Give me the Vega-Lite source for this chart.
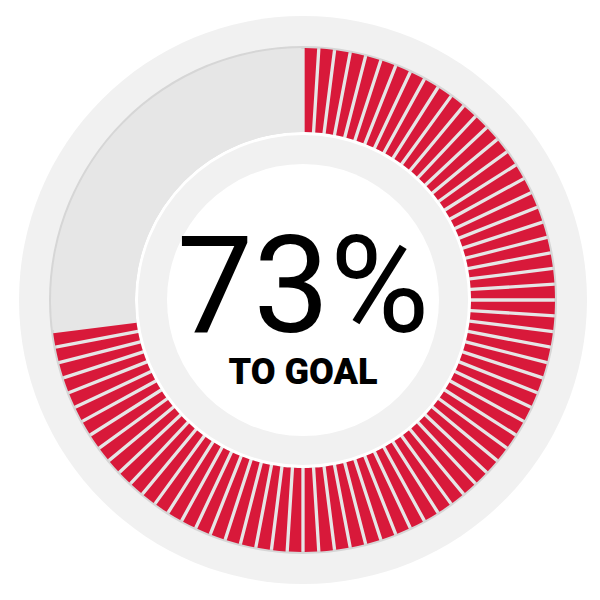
{
  "$schema": "https://vega.github.io/schema/vega-lite/v6.json",
  "width": 600,
  "height": 600,
  "autosize": {"type": "fit", "contains": "padding"},
  "padding": {"left": 6, "top": 0, "right": 0, "bottom": 0},
  "background": "white",
  "view": {"stroke": null},
  "datasets": {
    "rings": [{"ring": "outer"}],
    "segments": [
      {"i":1,"state":"done","v":1},{"i":2,"state":"done","v":1},{"i":3,"state":"done","v":1},{"i":4,"state":"done","v":1},{"i":5,"state":"done","v":1},
      {"i":6,"state":"done","v":1},{"i":7,"state":"done","v":1},{"i":8,"state":"done","v":1},{"i":9,"state":"done","v":1},{"i":10,"state":"done","v":1},
      {"i":11,"state":"done","v":1},{"i":12,"state":"done","v":1},{"i":13,"state":"done","v":1},{"i":14,"state":"done","v":1},{"i":15,"state":"done","v":1},
      {"i":16,"state":"done","v":1},{"i":17,"state":"done","v":1},{"i":18,"state":"done","v":1},{"i":19,"state":"done","v":1},{"i":20,"state":"done","v":1},
      {"i":21,"state":"done","v":1},{"i":22,"state":"done","v":1},{"i":23,"state":"done","v":1},{"i":24,"state":"done","v":1},{"i":25,"state":"done","v":1},
      {"i":26,"state":"done","v":1},{"i":27,"state":"done","v":1},{"i":28,"state":"done","v":1},{"i":29,"state":"done","v":1},{"i":30,"state":"done","v":1},
      {"i":31,"state":"done","v":1},{"i":32,"state":"done","v":1},{"i":33,"state":"done","v":1},{"i":34,"state":"done","v":1},{"i":35,"state":"done","v":1},
      {"i":36,"state":"done","v":1},{"i":37,"state":"done","v":1},{"i":38,"state":"done","v":1},{"i":39,"state":"done","v":1},{"i":40,"state":"done","v":1},
      {"i":41,"state":"done","v":1},{"i":42,"state":"done","v":1},{"i":43,"state":"done","v":1},{"i":44,"state":"done","v":1},{"i":45,"state":"done","v":1},
      {"i":46,"state":"done","v":1},{"i":47,"state":"done","v":1},{"i":48,"state":"done","v":1},{"i":49,"state":"done","v":1},{"i":50,"state":"done","v":1},
      {"i":51,"state":"done","v":1},{"i":52,"state":"done","v":1},{"i":53,"state":"done","v":1},{"i":54,"state":"done","v":1},{"i":55,"state":"done","v":1},
      {"i":56,"state":"done","v":1},{"i":57,"state":"done","v":1},{"i":58,"state":"done","v":1},{"i":59,"state":"done","v":1},{"i":60,"state":"done","v":1},
      {"i":61,"state":"done","v":1},{"i":62,"state":"done","v":1},{"i":63,"state":"done","v":1},{"i":64,"state":"done","v":1},{"i":65,"state":"done","v":1},
      {"i":66,"state":"done","v":1},{"i":67,"state":"done","v":1},{"i":68,"state":"done","v":1},{"i":69,"state":"done","v":1},{"i":70,"state":"done","v":1},
      {"i":71,"state":"done","v":1},{"i":72,"state":"done","v":1},{"i":73,"state":"done","v":1},
      {"i":74,"state":"todo","v":27}
    ],
    "labels": [{"pct": "73%", "caption": "TO GOAL"}]
  },
  "layer": [
    {
      "data": {"name": "rings"},
      "mark": {"type": "arc", "theta": 0, "theta2": 6.2832, "radius": 284, "radius2": 0, "color": "#f1f1f1"},
      "encoding": {}
    },
    {
      "data": {"name": "rings"},
      "mark": {"type": "arc", "theta": 0, "theta2": 6.2832, "radius": 254, "radius2": 168, "color": "#d6d6d6"},
      "encoding": {}
    },
    {
      "data": {"name": "rings"},
      "mark": {"type": "arc", "theta": 0, "theta2": 6.2832, "radius": 251, "radius2": 168, "color": "#e6e6e6"},
      "encoding": {}
    },
    {
      "data": {"name": "rings"},
      "mark": {"type": "arc", "theta": 0, "theta2": 6.2832, "radius": 168, "radius2": 0, "color": "#ffffff"},
      "encoding": {}
    },
    {
      "data": {"name": "rings"},
      "mark": {"type": "arc", "theta": 0, "theta2": 6.2832, "radius": 165, "radius2": 0, "color": "#f1f1f1"},
      "encoding": {}
    },
    {
      "data": {"name": "rings"},
      "mark": {"type": "arc", "theta": 0, "theta2": 6.2832, "radius": 136, "radius2": 0, "color": "#ffffff"},
      "encoding": {}
    },
    {
      "data": {"name": "segments"},
      "mark": {"type": "arc", "radius": 252, "radius2": 168, "padAngle": 0.011},
      "encoding": {
        "theta": {"field": "v", "type": "quantitative", "stack": true},
        "order": {"field": "i", "type": "quantitative"},
        "color": {
          "field": "state",
          "type": "nominal",
          "scale": {"domain": ["done", "todo"], "range": ["#d8193a", "#e6e6e6"]},
          "legend": null
        }
      }
    },
    {
      "data": {"name": "labels"},
      "mark": {"type": "text", "font": "Roboto", "fontWeight": 400, "fontSize": 136, "baseline": "alphabetic", "align": "center", "dy": 32, "color": "#000000"},
      "encoding": {"text": {"field": "pct"}}
    },
    {
      "data": {"name": "labels"},
      "mark": {"type": "text", "font": "Roboto", "fontWeight": 900, "fontSize": 36, "baseline": "alphabetic", "align": "center", "dy": 84, "color": "#000000"},
      "encoding": {"text": {"field": "caption"}}
    }
  ]
}
